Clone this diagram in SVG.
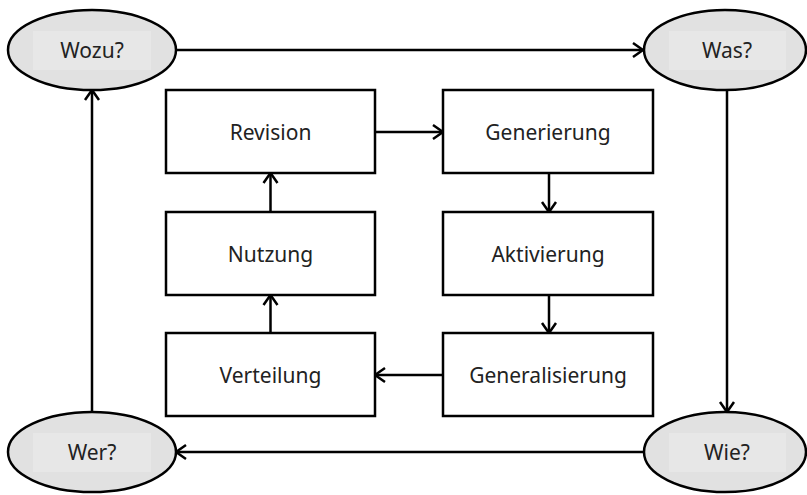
<svg xmlns="http://www.w3.org/2000/svg" width="807" height="495" viewBox="0 0 807 495">
<style>
.ell{fill:#e1e1e1;stroke:#000;stroke-width:2.5}
.in{fill:#e7e7e7;stroke:none}
.box{fill:#fff;stroke:#000;stroke-width:2.5}
.t{font-family:"Noto Sans","Open Sans",sans-serif;font-size:21px;fill:#222;text-anchor:middle;dominant-baseline:central}
.c{fill:none;stroke:#000;stroke-width:2.5;marker-end:url(#a)}
</style>
<defs>
<marker id="a" markerUnits="userSpaceOnUse" markerWidth="20" markerHeight="20" viewBox="-14 -10 16 20" refX="-1" refY="0" orient="auto">
<path d="M-11,-7 L-1,0 L-11,7" fill="none" stroke="#000" stroke-width="2.5"/>
</marker>
</defs>
<rect width="807" height="495" fill="#fff"/>
<g id="connectors">
<line class="c" x1="176" y1="50" x2="643" y2="50"/>
<line class="c" x1="727" y1="90" x2="727" y2="412"/>
<line class="c" x1="643" y1="452" x2="176" y2="452"/>
<line class="c" x1="92" y1="412" x2="92" y2="90"/>
<line class="c" x1="375" y1="132" x2="443" y2="132"/>
<line class="c" x1="549" y1="173" x2="549" y2="212"/>
<line class="c" x1="549" y1="295" x2="549" y2="333"/>
<line class="c" x1="443" y1="375" x2="375" y2="375"/>
<line class="c" x1="270.5" y1="333" x2="270.5" y2="295"/>
<line class="c" x1="270.5" y1="212" x2="270.5" y2="173"/>
</g>
<g id="wozu"><ellipse class="ell" cx="92" cy="50" rx="84" ry="40"/><rect class="in" x="33" y="31" width="118" height="39"/><text class="t" x="92" y="50">Wozu?</text></g>
<g id="was"><ellipse class="ell" cx="725" cy="50" rx="81" ry="40"/><rect class="in" x="669" y="31" width="117" height="39"/><text class="t" x="727" y="50">Was?</text></g>
<g id="wie"><ellipse class="ell" cx="725" cy="452" rx="81" ry="40"/><rect class="in" x="669" y="433" width="117" height="39"/><text class="t" x="727" y="452">Wie?</text></g>
<g id="wer"><ellipse class="ell" cx="92" cy="452" rx="84" ry="40"/><rect class="in" x="33" y="433" width="118" height="39"/><text class="t" x="92" y="452">Wer?</text></g>
<g id="revision"><rect class="box" x="166" y="90" width="209" height="83"/><text class="t" x="270.5" y="131.5">Revision</text></g>
<g id="nutzung"><rect class="box" x="166" y="212" width="209" height="83"/><text class="t" x="270.5" y="253.5">Nutzung</text></g>
<g id="verteilung"><rect class="box" x="166" y="333" width="209" height="83"/><text class="t" x="270.5" y="374.5">Verteilung</text></g>
<g id="generierung"><rect class="box" x="443" y="90" width="210" height="83"/><text class="t" x="548" y="131.5">Generierung</text></g>
<g id="aktivierung"><rect class="box" x="443" y="212" width="210" height="83"/><text class="t" x="548" y="253.5">Aktivierung</text></g>
<g id="generalisierung"><rect class="box" x="443" y="333" width="210" height="83"/><text class="t" x="548" y="374.5">Generalisierung</text></g>
</svg>
